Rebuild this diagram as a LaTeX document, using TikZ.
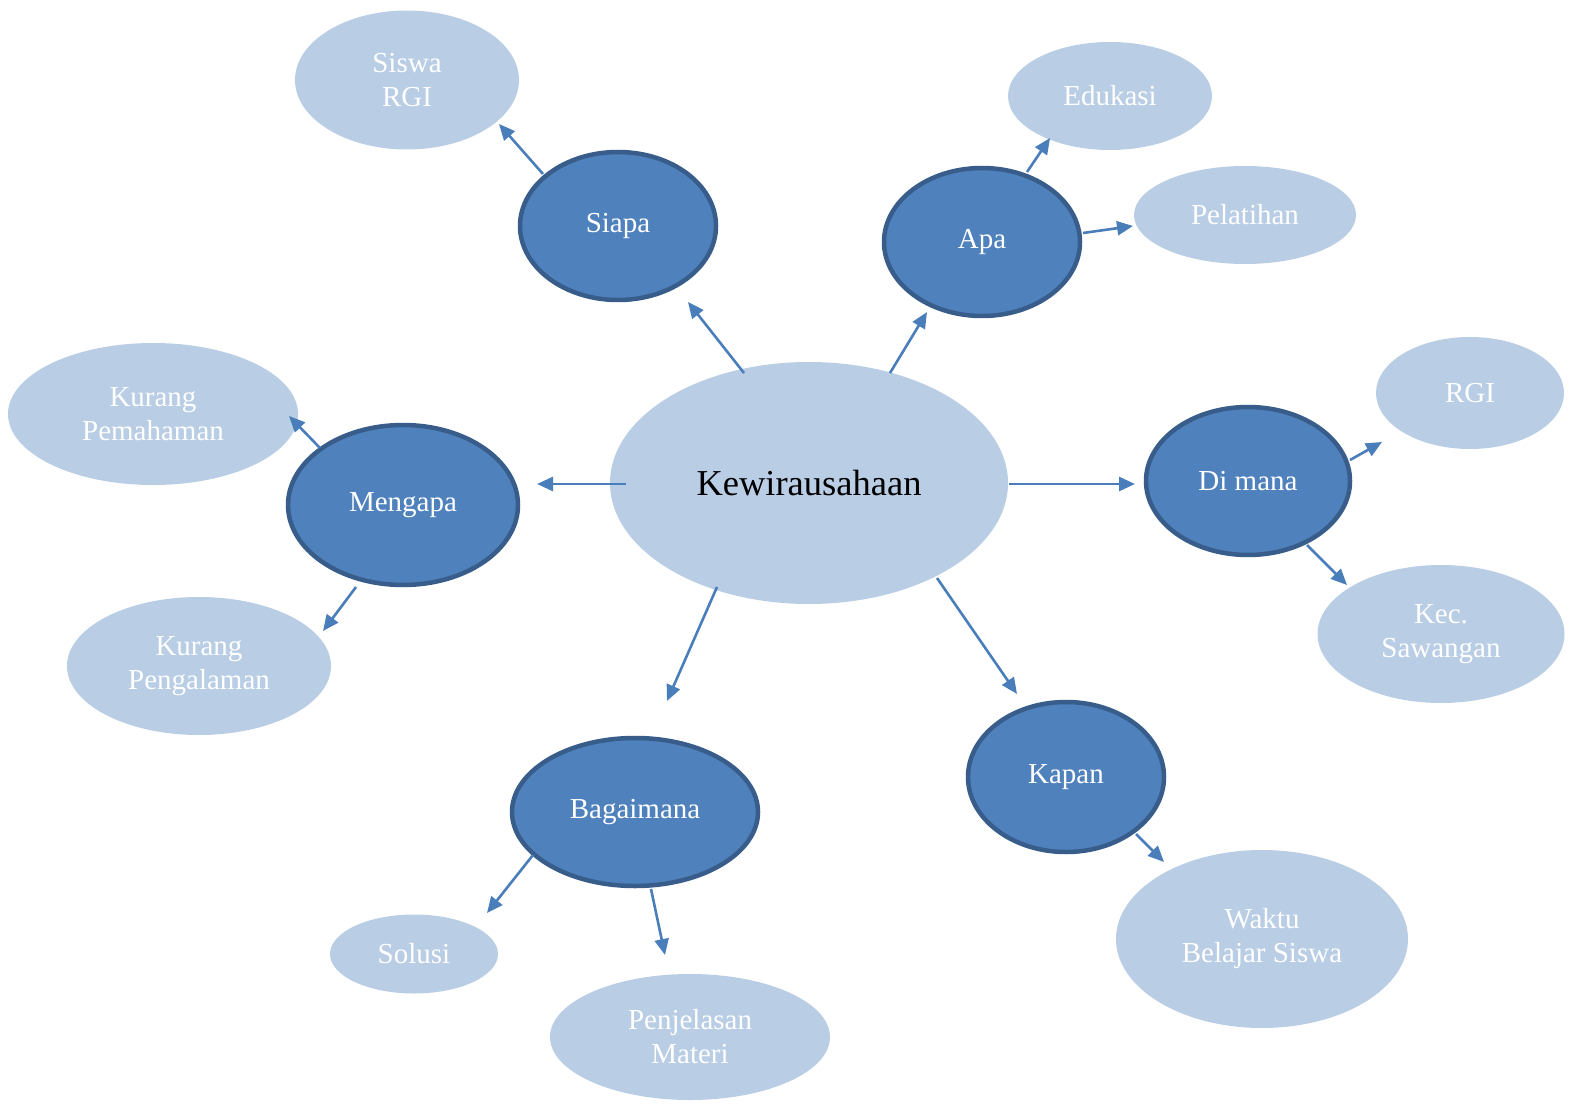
\documentclass[tikz,border=0pt]{standalone}
\usepackage{fontspec}
\setmainfont{Liberation Serif}
\usetikzlibrary{shapes.geometric,arrows.meta,calc}
\definecolor{lightfill}{HTML}{B9CDE5}
\definecolor{darkfill}{HTML}{4F81BD}
\definecolor{darkborder}{HTML}{385D8A}
\definecolor{arrowcol}{HTML}{4A7EBB}
\begin{document}
\begin{tikzpicture}[x=1pt,y=-1pt,
  sz/.style 2 args={minimum width=#1pt, minimum height=#2pt},
  leaf/.style={ellipse, fill=lightfill, text=white, inner sep=0pt, outer sep=0pt, align=center, font=\fontsize{29}{34}\selectfont},
  hub/.style={ellipse, fill=darkfill, draw=darkborder, line width=4.5pt, text=white, inner sep=0pt, outer sep=0pt, align=center, font=\fontsize{29}{34}\selectfont},
  core/.style={ellipse, fill=lightfill, text=black, inner sep=0pt, outer sep=0pt, align=center, font=\fontsize{36.5}{40}\selectfont},
  arr/.style={draw=arrowcol, line width=2.6pt, -{Triangle[length=16pt,width=14pt]}}]
\useasboundingbox (0,0) rectangle (1585,1107);
\fill[white] (0,0) rectangle (1585,1107);

% central
\node[core, sz={398}{242}] (k) at (809,483) {Kewirausahaan};

% hubs
\node[hub, sz={196}{148}] (siapa) at (618,226) {Siapa};
\node[hub, sz={196}{148}] (apa) at (982,242) {Apa};
\node[hub, sz={230}{160}] (mengapa) at (403,505) {Mengapa};
\node[hub, sz={204}{148}] (dimana) at (1248,481) {Di mana};
\node[hub, sz={246}{148}] (bagaimana) at (635,812) {Bagaimana};
\node[hub, sz={196}{150}] (kapan) at (1066,777) {Kapan};

% leaves
\node[leaf, sz={224}{139}] (siswa) at (407,80) {Siswa\\RGI};
\node[leaf, sz={204}{108}] (edukasi) at (1110,96) {Edukasi};
\node[leaf, sz={222}{98}] (pelatihan) at (1245,215) {Pelatihan};
\node[leaf, sz={290}{142}] (kpem) at (153,414) {Kurang\\Pemahaman};
\node[leaf, sz={264}{138}] (kpeng) at (199,666) {Kurang\\Pengalaman};
\node[leaf, sz={188}{112}] (rgi) at (1470,393) {RGI};
\node[leaf, sz={247}{138}] (kec) at (1441,634) {Kec.\\Sawangan};
\node[leaf, sz={168}{79}] (solusi) at (414,954) {Solusi};
\node[leaf, sz={280}{126}] (penj) at (690,1037) {Penjelasan\\Materi};
\node[leaf, sz={292}{178}] (waktu) at (1262,939) {Waktu\\Belajar Siswa};

% connectors from the central node
\draw[arr] ($(k)+(-65,-110)$) -- ($(siapa)+(70,76)$);
\draw[arr] ($(k)+(81,-110)$) -- ($(apa)+(-55,70)$);
\draw[arr] ($(k)+(-183,1)$) -- ($(mengapa)+(134,-21)$);
\draw[arr] ($(k)+(200,1)$) -- ($(dimana)+(-113,3)$);
\draw[arr] ($(k)+(-92,104)$) -- ($(bagaimana)+(32,-111)$);
\draw[arr] ($(k)+(128,95)$) -- ($(kapan)+(-49,-83)$);

% connectors from hubs to leaves
\draw[arr] ($(siapa)+(-75,-52)$) -- ($(siswa)+(92,44)$);
\draw[arr] ($(apa)+(45,-70)$) -- ($(edukasi)+(-60,42)$);
\draw[arr] ($(apa)+(101,-9)$) -- ($(pelatihan)+(-112,11)$);
\draw[arr] ($(mengapa)+(-83,-57)$) -- ($(kpem)+(136,2)$);
\draw[arr] ($(mengapa)+(-47,82)$) -- ($(kpeng)+(124,-35)$);
\draw[arr] ($(dimana)+(102,-21)$) -- ($(rgi)+(-88,49)$);
\draw[arr] ($(dimana)+(59,64)$) -- ($(kec)+(-94,-49)$);
\draw[arr] ($(bagaimana)+(-102,43)$) -- ($(solusi)+(73,-41)$);
\draw[arr] ($(bagaimana)+(16,77)$) -- ($(penj)+(-25,-82)$);
\draw[arr] ($(kapan)+(70,57)$) -- ($(waktu)+(-98,-77)$);
\end{tikzpicture}
\end{document}
